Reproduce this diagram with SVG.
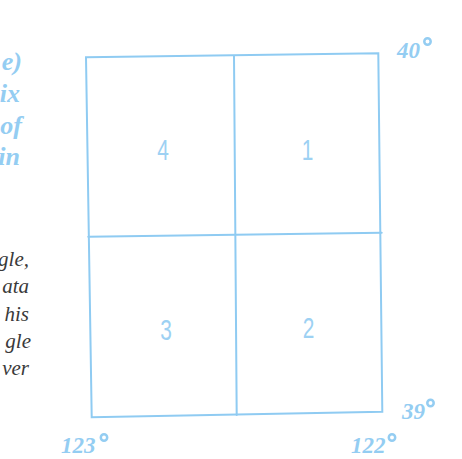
<svg xmlns="http://www.w3.org/2000/svg" width="462" height="459" viewBox="0 0 462 459">
<style>
.ln{stroke:#8fcbf2;stroke-width:2;fill:none;stroke-linecap:round}
.num{font-family:"Liberation Sans",sans-serif;font-size:29px;fill:#9dd1f3;text-anchor:middle}
.bl{font-family:"Liberation Serif",serif;font-style:italic;font-weight:bold;font-size:26px;fill:#94cdf2;text-anchor:end}
.gr{font-family:"Liberation Serif",serif;font-style:italic;font-size:21px;fill:#3a3a3a;text-anchor:end}
.deg{font-family:"Liberation Serif",serif;font-style:italic;font-weight:bold;font-size:23px;fill:#94cdf2}
.dc{fill:none;stroke:#94cdf2;stroke-width:2.5}
</style>
<rect width="462" height="459" fill="#ffffff"/>
<g id="side-text">
<text class="bl" x="22" y="70">e)</text>
<text class="bl" x="20" y="102">ix</text>
<text class="bl" x="22" y="134">of</text>
<text class="bl" x="20" y="165">in</text>
<text class="gr" x="29" y="266">gle,</text>
<text class="gr" x="29" y="293">ata</text>
<text class="gr" x="29" y="321">his</text>
<text class="gr" x="31" y="348">gle</text>
<text class="gr" x="29" y="375">ver</text>
</g>
<g id="connectors">
<path class="ln" d="M86,57.3 L378.3,53.3 L382.3,411.7 L91.7,417.3 Z"/>
<path class="ln" d="M234,56 L236.7,415"/>
<path class="ln" d="M88.3,236.7 L381.7,232.7"/>
</g>
<g id="node-4"><text class="num" transform="translate(163,160) scale(0.72,1)">4</text></g>
<g id="node-1"><text class="num" transform="translate(307.5,160) scale(0.72,1)">1</text></g>
<g id="node-3"><text class="num" transform="translate(166,340) scale(0.72,1)">3</text></g>
<g id="node-2"><text class="num" transform="translate(308.5,338) scale(0.72,1)">2</text></g>
<g id="corner-40"><text class="deg" x="397" y="58">40</text><circle class="dc" cx="427.5" cy="41.5" r="3.2"/></g>
<g id="corner-39"><text class="deg" x="402" y="419">39</text><circle class="dc" cx="430.5" cy="403" r="3.2"/></g>
<g id="corner-123"><text class="deg" x="61" y="453">123</text><circle class="dc" cx="104" cy="437.5" r="3.2"/></g>
<g id="corner-122"><text class="deg" x="351" y="453">122</text><circle class="dc" cx="392" cy="437.5" r="3.2"/></g>
</svg>
